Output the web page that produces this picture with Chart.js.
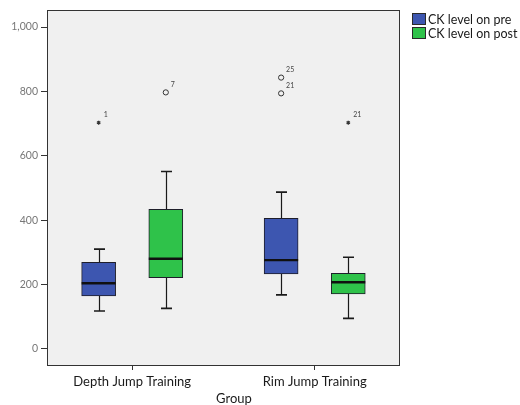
<!DOCTYPE html>
<html>
<head>
<meta charset="utf-8">
<script src="https://cdn.jsdelivr.net/npm/chart.js@4.4.1/dist/chart.umd.min.js"></script>
<style>
  html, body { margin: 0; padding: 0; background: #ffffff; }
  #wrap { width: 520px; height: 405px; }
</style>
</head>
<body>
<div id="wrap"><canvas id="c" width="520" height="405"></canvas></div>
<script>
// Groups along the x axis
const categories = ['Depth Jump Training', 'Rim Jump Training'];
const seriesNames = ['CK level on pre', 'CK level on post'];

// Five-number summaries, CK level before training
const preMin    = [118, 168];
const preQ1     = [165, 233];
const preMedian = [204, 276];
const preQ3     = [269, 406];
const preMax    = [310, 487];

// Five-number summaries, CK level after training
const postMin    = [126, 95];
const postQ1     = [221, 171];
const postMedian = [280, 207];
const postQ3     = [434, 235];
const postMax    = [551, 285];

// Outlying cases: value, case number, kind ('outlier' = circle, 'extreme' = star)
const preOutlierValues  = [[703], [843, 794]];
const preOutlierIds     = [['1'], ['25', '21']];
const preOutlierKinds   = [['extreme'], ['outlier', 'outlier']];
const postOutlierValues = [[797], [703]];
const postOutlierIds    = [['7'], ['21']];
const postOutlierKinds  = [['outlier'], ['extreme']];

const yTicks = [0, 200, 400, 600, 800, 1000];

// Styling / layout
const colors = ['#3d56b0', '#2fc24a'];
const BOX_SHIFT = 0.184;          // box centre offset from the group position (axis units)
const FONT = 'Lato';

const series = [
  { label: seriesNames[0], color: colors[0], min: preMin, q1: preQ1, median: preMedian, q3: preQ3, max: preMax,
    outVals: preOutlierValues, outIds: preOutlierIds, outKinds: preOutlierKinds, side: -1 },
  { label: seriesNames[1], color: colors[1], min: postMin, q1: postQ1, median: postMedian, q3: postQ3, max: postMax,
    outVals: postOutlierValues, outIds: postOutlierIds, outKinds: postOutlierKinds, side: 1 }
];

const datasets = series.map(s => ({
  type: 'bar',
  label: s.label,
  data: categories.map((c, i) => ({ x: i + s.side * BOX_SHIFT, y: [s.q1[i], s.q3[i]] })),
  backgroundColor: s.color,
  borderColor: '#1e1e2a',
  borderWidth: 1,
  borderSkipped: false,
  barThickness: 34,
  grouped: false
}));

const boxPlotExtras = {
  id: 'boxPlotExtras',
  beforeDraw(chart) {
    const { ctx, chartArea: a } = chart;
    ctx.save();
    ctx.fillStyle = '#ffffff';
    ctx.fillRect(0, 0, chart.width, chart.height);
    ctx.fillStyle = '#f0f0f0';
    ctx.fillRect(a.left, a.top, a.right - a.left, a.bottom - a.top);
    ctx.restore();
  },
  beforeDatasetsDraw(chart) {
    // whiskers and caps, behind the boxes
    const { ctx } = chart;
    const y = chart.scales.y;
    ctx.save();
    ctx.strokeStyle = '#1a1a1a';
    series.forEach((s, di) => {
      chart.getDatasetMeta(di).data.forEach((el, i) => {
        const x = Math.round(el.x) + 0.5;
        const yMin = y.getPixelForValue(s.min[i]);
        const yMax = y.getPixelForValue(s.max[i]);
        const yQ1 = y.getPixelForValue(s.q1[i]);
        const yQ3 = y.getPixelForValue(s.q3[i]);
        ctx.lineWidth = 1.2;
        ctx.beginPath();
        ctx.moveTo(x, yQ3); ctx.lineTo(x, yMax);
        ctx.moveTo(x, yQ1); ctx.lineTo(x, yMin);
        ctx.stroke();
        ctx.lineWidth = 1.6;
        ctx.beginPath();
        ctx.moveTo(x - 5.5, yMax); ctx.lineTo(x + 5.5, yMax);
        ctx.moveTo(x - 5.5, yMin); ctx.lineTo(x + 5.5, yMin);
        ctx.stroke();
      });
    });
    ctx.restore();
  },
  afterDatasetsDraw(chart) {
    const { ctx } = chart;
    const y = chart.scales.y;
    ctx.save();
    series.forEach((s, di) => {
      chart.getDatasetMeta(di).data.forEach((el, i) => {
        const half = el.width / 2;
        // median
        const yMed = y.getPixelForValue(s.median[i]);
        ctx.strokeStyle = '#101010';
        ctx.lineWidth = 2.4;
        ctx.beginPath();
        ctx.moveTo(el.x - half, yMed); ctx.lineTo(el.x + half, yMed);
        ctx.stroke();
        // outlying cases
        s.outVals[i].forEach((v, k) => {
          const py = y.getPixelForValue(v);
          const px = el.x;
          ctx.strokeStyle = '#333';
          ctx.lineWidth = 1;
          if (s.outKinds[i][k] === 'outlier') {
            ctx.beginPath();
            ctx.arc(px, py, 2.6, 0, Math.PI * 2);
            ctx.stroke();
          } else {
            ctx.beginPath();
            for (let a = 0; a < 3; a++) {
              const ang = a * Math.PI / 3 + Math.PI / 2;
              ctx.moveTo(px - 2 * Math.cos(ang), py - 2 * Math.sin(ang));
              ctx.lineTo(px + 2 * Math.cos(ang), py + 2 * Math.sin(ang));
            }
            ctx.lineWidth = 1.3;
            ctx.stroke();
          }
          ctx.fillStyle = '#444';
          ctx.font = '7px ' + FONT;
          ctx.textAlign = 'left';
          ctx.textBaseline = 'middle';
          ctx.fillText(s.outIds[i][k], px + 5, py - 8);
        });
      });
    });
    ctx.restore();
  },
  afterDraw(chart) {
    const { ctx, chartArea: a } = chart;
    ctx.save();
    // frame around the plot area
    ctx.strokeStyle = '#333';
    ctx.lineWidth = 1;
    ctx.strokeRect(Math.round(a.left) + 0.5, Math.round(a.top) + 0.5,
                   Math.round(a.right - a.left), Math.round(a.bottom - a.top));
    // legend
    ctx.font = '12.5px ' + FONT;
    ctx.textAlign = 'left';
    ctx.textBaseline = 'middle';
    series.forEach((s, i) => {
      const top = 13 + i * 14;
      ctx.fillStyle = s.color;
      ctx.fillRect(412, top, 14, 12);
      ctx.strokeStyle = '#2a2a2a';
      ctx.strokeRect(412.5, top + 0.5, 13, 11);
      ctx.fillStyle = '#1a1a1a';
      ctx.fillText(s.label, 428, top + 6.5);
    });
    // x axis title
    ctx.font = '13px ' + FONT;
    ctx.textAlign = 'center';
    ctx.fillStyle = '#1a1a1a';
    ctx.fillText('Group', 234, 399);
    ctx.restore();
  }
};

new Chart(document.getElementById('c'), {
  data: { datasets },
  plugins: [boxPlotExtras],
  options: {
    responsive: false,
    animation: false,
    devicePixelRatio: 1,
    layout: { padding: { top: 10, right: 121, bottom: 0, left: 0 } },
    plugins: { legend: { display: false }, tooltip: { enabled: false } },
    scales: {
      x: {
        type: 'linear',
        offset: false,
        min: -0.467,
        max: 1.462,
        afterBuildTicks: axis => { axis.ticks = categories.map((c, i) => ({ value: i })); },
        afterFit: axis => { axis.height = 40; },
        ticks: {
          callback: (v, i) => categories[i],
          font: { family: FONT, size: 13 },
          color: '#1a1a1a',
          padding: 4,
          maxRotation: 0,
          autoSkip: false
        },
        grid: { offset: false, drawOnChartArea: false, drawTicks: true, tickLength: 5, color: '#333' },
        border: { display: true, color: '#333' }
      },
      y: {
        type: 'linear',
        min: -50,
        max: 1053,
        afterBuildTicks: axis => { axis.ticks = yTicks.map(v => ({ value: v })); },
        afterFit: axis => { axis.width = 47; },
        ticks: {
          callback: v => v.toLocaleString('en-US'),
          font: { family: FONT, size: 10.5 },
          color: '#777',
          padding: 3
        },
        grid: { drawOnChartArea: false, drawTicks: true, tickLength: 6, color: '#333' },
        border: { display: true, color: '#333' }
      }
    }
  }
});
</script>
</body>
</html>
